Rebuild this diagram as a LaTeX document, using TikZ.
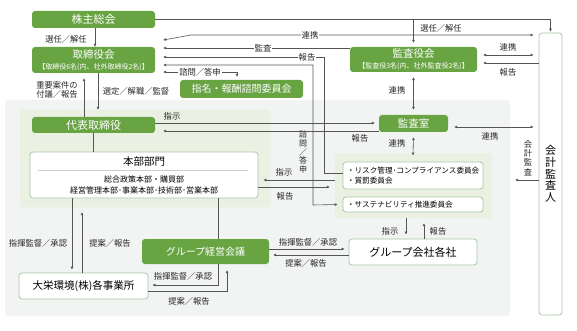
\documentclass[tikz,border=0pt]{standalone}
\usepackage{fontspec}
\setmainfont{Noto Sans CJK JP}
\usetikzlibrary{arrows.meta,calc}
\definecolor{grn}{HTML}{69A443}
\definecolor{bord}{HTML}{A9C8A6}
\definecolor{greybg}{HTML}{F2F3F3}
\definecolor{greenbg}{HTML}{EAF1E3}
\definecolor{lnc}{HTML}{555555}
\begin{document}
\begin{tikzpicture}[x=1pt,y=-1pt,
 gbox/.style={fill=grn,text=white,rounded corners=3pt,inner sep=0pt,align=center},
 wbox/.style={draw=bord,line width=0.8pt,fill=white,rounded corners=3pt,inner sep=0pt,align=center},
 bg/.style={inner sep=0pt,rounded corners=4pt},
 lbl/.style={font=\fontsize{8.3}{9}\selectfont,text=black!85,inner sep=1pt},
 con/.style={draw=lnc,line width=0.6pt},
 arr/.style={con,-{Latex[length=3pt,width=3pt]}},
 darr/.style={con,{Latex[length=3pt,width=3pt]}-{Latex[length=3pt,width=3pt]}},
]
\useasboundingbox (0,0) rectangle (577,331);
% backgrounds
\node[bg,fill=greybg,minimum width=505pt,minimum height=216pt] (gr) at (257.5,208) {};
\node[bg,fill=greenbg,minimum width=250pt,minimum height=97pt,rounded corners=2pt] (g1) at (145,158.5) {};
\node[bg,fill=greenbg,minimum width=157pt,minimum height=65pt,rounded corners=2pt] (g2) at (413.5,185.5) {};

% nodes
\node[gbox,minimum width=123pt,minimum height=17pt,font=\fontsize{11}{12}\selectfont] (kabu) at (93.5,19.5) {株主総会};
\node[gbox,minimum width=123pt,minimum height=26pt] (tori) at (93.5,60) {{\fontsize{10.5}{11}\selectfont 取締役会}\\[-1pt]{\fontsize{7}{7.5}\selectfont 【取締役6名(内、社外取締役2名)】}};
\node[gbox,minimum width=123pt,minimum height=18pt,font=\fontsize{10}{11}\selectfont] (shimei) at (241.5,89) {指名・報酬諮問委員会};
\node[gbox,minimum width=127pt,minimum height=25pt] (kansayaku) at (413.5,59.5) {{\fontsize{10.5}{11}\selectfont 監査役会}\\[-1pt]{\fontsize{7}{7.5}\selectfont 【監査役3名(内、社外監査役2名)】}};
\node[wbox,minimum width=23pt,minimum height=282pt,font=\fontsize{11}{11.7}\selectfont] (kaikei) at (550.5,174) {会\\計\\監\\査\\人};
\node[gbox,minimum width=123pt,minimum height=16pt,font=\fontsize{11}{12}\selectfont] (daihyo) at (93.5,125) {代表取締役};
\node[gbox,minimum width=69pt,minimum height=17pt,font=\fontsize{10.5}{11}\selectfont] (kansashitsu) at (413.5,123.5) {監査室};
\node[wbox,minimum width=228pt,minimum height=46pt] (honbu) at (144,175) {};
\node[font=\fontsize{10.5}{11}\selectfont,inner sep=0pt] (honbut) at (144,161.5) {本部部門};
\draw[draw=black!20,line width=0.5pt] (38,170) -- (248,170);
\node[font=\fontsize{8}{9}\selectfont,inner sep=0pt] (honbu1) at (144,179) {総合政策本部・購買部};
\node[font=\fontsize{8}{9}\selectfont,inner sep=0pt] (honbu2) at (144,190) {経営管理本部･事業本部･技術部･営業本部};
\node[wbox,minimum height=27pt,text width=132pt,inner xsep=4pt,align=left,font=\fontsize{7.6}{10.5}\selectfont] (risk) at (413,175.5) {・リスク管理･コンプライアンス委員会\\・賞罰委員会};
\node[wbox,minimum height=15pt,text width=132pt,inner xsep=4pt,align=left,font=\fontsize{7.6}{9}\selectfont] (sus) at (413,204.5) {・サステナビリティ推進委員会};
\node[gbox,minimum width=127pt,minimum height=25pt,font=\fontsize{10}{11}\selectfont] (gkeiei) at (205.5,251.5) {グループ経営会議};
\node[wbox,minimum width=128pt,minimum height=26pt,font=\fontsize{11}{12}\selectfont] (gkaisha) at (413,252) {グループ会社各社};
\node[wbox,minimum width=129pt,minimum height=26pt,font=\fontsize{10.5}{12}\selectfont] (daiei) at (83.5,286) {大栄環境(株)各事業所};

% top connectors
\draw[arr] (kabu.south -| 95,0) -- (tori.north -| 95,0);
\node[lbl] at (66,39) {選任／解任};
\draw[arr] (kabu.east) -- (kaikei.north |- kabu.east) -- ($(kaikei.north)+(0,-1)$);
\draw[arr] (kansayaku.north |- kabu.east) -- ($(kansayaku.north)+(0,-4)$);
\node[lbl] at (441,28) {選任／解任};
\draw[darr] ($(tori.east)+(8,-20)$) -- ($(tori.east)+(36,-25)$) -- ($(kaikei.west |- 0,35)+(-5,0)$);
\node[lbl,fill=white] at (310,35) {連携};
\draw[arr] (kansayaku.west |- 0,48) -- ($(tori.east)+(8,-12)$);
\node[lbl,fill=white] at (263,48) {監査};
\draw[arr] (risk.west |- 0,173) -- (324,173) -- (324,57) -- ($(tori.east)+(8,-3)$);
\node[lbl,fill=white] at (307,57) {報告};
\draw[darr] ($(tori.east)+(8,5)$) -- (313,65) -- (313,205) -- ($(sus.west)+(-5,0)$);
\node[lbl,align=center,font=\fontsize{8}{8.6}\selectfont] at (303,152) {諮\\問\\／\\答\\申};
\draw[darr] ($(tori.east)+(8,12)$) -- (237,72) -- ($(shimei.north -| 237,0)+(0,-3)$);
\node[lbl,fill=white] at (200,72) {諮問／答申};

% tori - daihyo
\draw[arr] (tori.south -| 98,0) -- (g1.north -| 98,0);
\node[lbl] at (136,91) {選定／解職／監督};
\draw[arr] (daihyo.north -| 84,0) -- ($(tori.south -| 84,0)+(0,5)$);
\node[lbl,align=left,font=\fontsize{8.3}{9.5}\selectfont] at (57,90) {重要案件の\\付議／報告};
\draw[con] (daihyo.south -| 93,0) -- (honbu.north -| 93,0);

% daihyo - kansashitsu
\draw[arr] (daihyo.east |- 0,123) -- ($(kansashitsu.west |- 0,123)+(-4,0)$);
\node[lbl] at (172,116) {指示};
\draw[arr] (kansashitsu.west |- 0,131) -- ($(daihyo.east |- 0,131)+(8,0)$);
\node[lbl] at (360,138) {報告};

% audit links
\draw[darr] ($(kansayaku.south)+(0,5)$) -- ($(kansashitsu.north)+(0,-5)$);
\node[lbl] at (397,90) {連携};
\draw[darr] ($(kansashitsu.south)+(0,5)$) -- ($(risk.north)+(0,-6)$);
\node[lbl] at (397,143) {連携};
\draw[darr] ($(kansashitsu.east |- 0,127)+(6,0)$) -- ($(kaikei.west |- 0,127)+(-5,0)$);
\node[lbl] at (490,136) {連携};
\draw[darr] ($(kansayaku.east |- 0,55)+(6,0)$) -- ($(kaikei.west |- 0,55)+(-5,0)$);
\node[lbl] at (508,47) {連携};
\draw[arr] (kaikei.west |- 0,63) -- ($(kansayaku.east |- 0,63)+(6,0)$);
\node[lbl] at (508,72) {報告};
\draw[arr] (kaikei.west |- 0,180) -- ($(gr.east |- 0,180)+(5,0)$);
\node[lbl,align=center,font=\fontsize{8.3}{9.3}\selectfont] at (528,158) {会\\計\\監\\査};

% honbu - committees
\draw[arr] (g2.west |- 0,180) -- ($(honbu.east |- 0,180)+(5,0)$);
\node[lbl] at (284,172) {指示};
\draw[arr] (honbu.east |- 0,187) -- ($(g2.west |- 0,187)+(-5,0)$);
\node[lbl] at (285,196) {報告};

% lower part
\draw[con] (honbu.south -| 218,0) -- (gkeiei.north -| 218,0);
\draw[arr] (honbu.south -| 72,0) -- ($(daiei.north -| 72,0)+(0,-3)$);
\node[lbl] at (38,243) {指揮監督／承認};
\draw[arr] (daiei.north -| 82,0) -- ($(g1.south -| 82,0)+(0,5)$);
\node[lbl] at (110,243) {提案／報告};

\draw[arr] (gkeiei.east |- 0,249) -- ($(gkaisha.west |- 0,249)+(-4,0)$);
\node[lbl] at (308,242) {指揮監督／承認};
\draw[arr] (gkaisha.west |- 0,255) -- ($(gkeiei.east |- 0,255)+(4,0)$);
\node[lbl] at (306,263) {提案／報告};

\draw[arr] (gkeiei.south -| 218,0) -- (218,285) -- ($(daiei.east |- 0,285)+(4,0)$);
\node[lbl] at (183,276) {指揮監督／承認};
\draw[arr] (daiei.east |- 0,291) -- (227,291) -- ($(gkeiei.south -| 227,0)+(0,6)$);
\node[lbl] at (189,301) {提案／報告};

\draw[arr] (g2.south -| 406,0) -- ($(gkaisha.north -| 406,0)+(0,-4)$);
\node[lbl] at (390,231) {指示};
\draw[arr] (gkaisha.north -| 424,0) -- ($(g2.south -| 424,0)+(0,5)$);
\node[lbl] at (438,231) {報告};
\end{tikzpicture}
\end{document}
